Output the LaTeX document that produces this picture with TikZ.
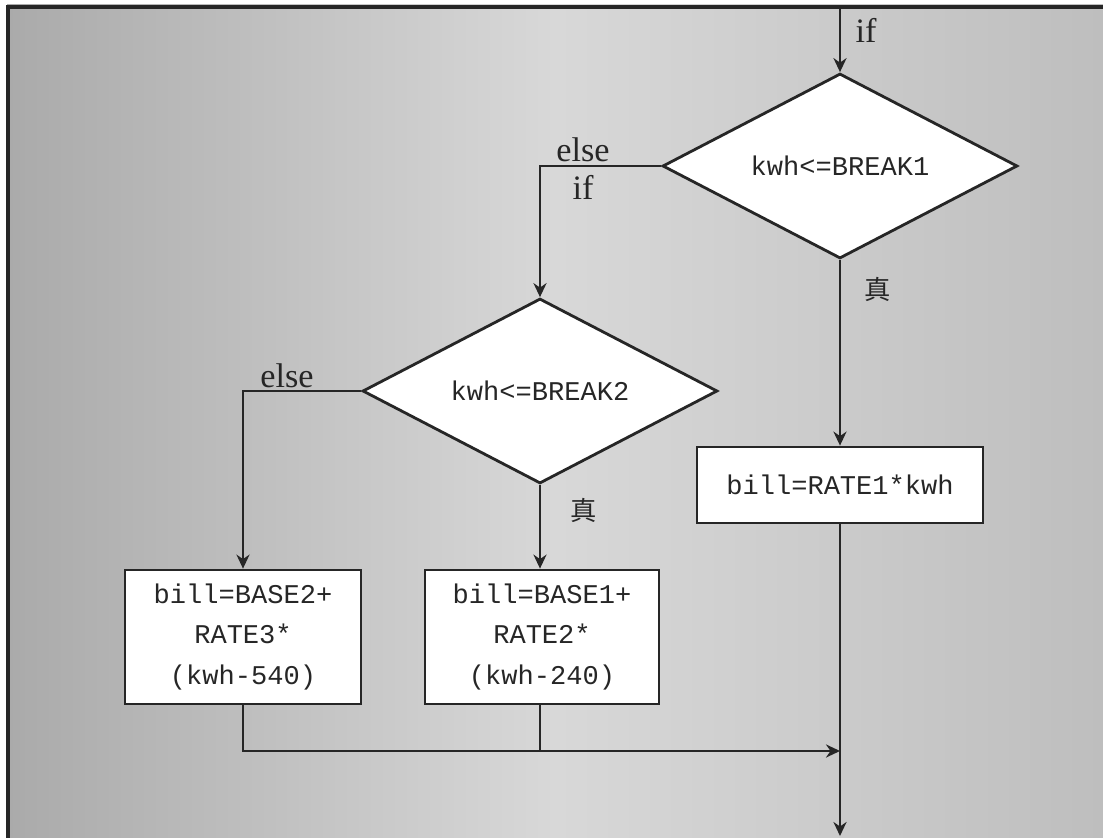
\documentclass[tikz,border=0pt]{standalone}
\usepackage{fontspec}
\setmainfont{Liberation Serif}
\setmonofont{Liberation Mono}
\newfontfamily\cjkfont{Noto Sans CJK SC}
\usepackage{tikz}
\usetikzlibrary{shapes.geometric, arrows.meta, positioning}
\definecolor{inkdark}{RGB}{38,38,38}
\definecolor{paperleft}{RGB}{170,170,170}
\definecolor{papermid}{RGB}{216,216,216}
\definecolor{paperright}{RGB}{190,190,190}
\newcommand\codefont{\ttfamily\fontsize{15.4}{23}\selectfont}
\newcommand\kwfont{\rmfamily\fontsize{19.5}{22}\selectfont}
\tikzset{
  decision/.style={diamond, draw=inkdark, fill=white, aspect=2,
    minimum width=7.1cm, minimum height=3.7cm, inner sep=0pt,
    line width=1.6pt, font=\codefont, text=inkdark},
  process/.style={rectangle, draw=inkdark, fill=white, align=center,
    inner sep=0pt, line width=1.6pt, font=\codefont, text=inkdark},
  flow/.style={-{Stealth[length=8pt, width=7.5pt]}, line width=1.1pt, color=inkdark},
  line/.style={line width=1.1pt, color=inkdark},
  keyword/.style={font=\kwfont, text=inkdark},
  truelbl/.style={font=\cjkfont\fontsize{15}{18}\selectfont, text=inkdark}
}

\begin{document}
\begin{tikzpicture}[x=0.02cm, y=-0.02cm]
  \useasboundingbox (0,0) rectangle (1103,838);
  % paper
  \fill[white] (0,0) rectangle (1103,838);
  \shade[left color=paperleft, right color=paperright, middle color=papermid]
    (7,5) rectangle (1103,838);
  \draw[line width=2pt, color=inkdark] (8,838) -- (8,7) -- (1103,7);

  % decisions
  \node[decision] (d1) at (840,166) {kwh<=BREAK1};
  \node[decision] (d2) at (540,391) {kwh<=BREAK2};

  % processes
  \node[process, minimum width=5.72cm, minimum height=1.52cm] (b1) at (840,485)
    {bill=RATE1*kwh};
  \node[process, minimum width=4.72cm, minimum height=2.68cm] (b3) at (243,637)
    {bill=BASE2+\\RATE3*\\(kwh-540)};
  \node[process, minimum width=4.68cm, minimum height=2.68cm] (b2) at (542,637)
    {bill=BASE1+\\RATE2*\\(kwh-240)};

  \coordinate (start) at (840,8);
  \coordinate (merge) at (840,751);
  \coordinate (end) at (840,836);

  % connectors
  \draw[flow] (start) -- (d1.north);
  \draw[flow] (d1.west) -| (d2.north);
  \draw[flow] (d1.south) -- (b1.north);
  \draw[flow] (d2.west) -| (b3.north);
  \draw[flow] (d2.south) -- (d2.south |- b2.north);
  \draw[flow] (b3.south) |- (merge);
  \draw[line] (d2.south |- b2.south) -- (d2.south |- merge);
  \draw[flow] (b1.south) -- (end);

  % labels
  \node[keyword] (ifa) at (866,30) {if};
  \node[keyword] (elsea) at (583,150) {else};
  \node[keyword] (ifb) at (583,187) {if};
  \node[keyword] (elseb) at (287,376) {else};
  \node[truelbl] (truea) at (878,289) {真};
  \node[truelbl] (trueb) at (584,510) {真};
\end{tikzpicture}
\end{document}
